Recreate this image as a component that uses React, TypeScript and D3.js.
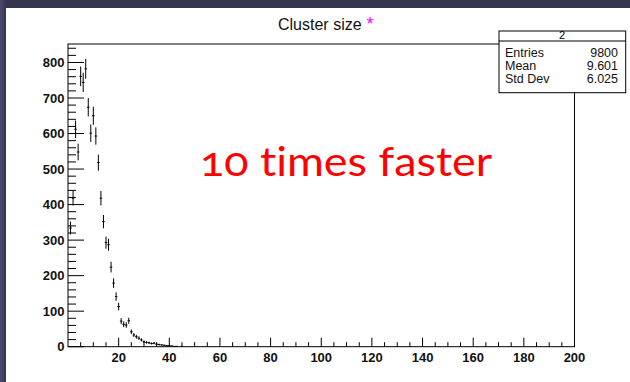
import React from "react";
import * as d3 from "d3";

const binCenters = [1,2,3,4,5,6,7,8,9,10,11,12,13,14,15,16,17,18,19,20,21,22,23,24,25,26,27,28,29,30,31,32,33,34,35,36,37,38,39,40,41,42,43,45];
const binCounts = [334,418,612,548,761,744,782,674,601,650,593,518,418,352,293,287,224,179,141,113,72,63,61,73,42,33,28,24,19,14,12,11,9,10,7,6,5,4,3,3,2,1,1,1];
const xMajorTicks = [20,40,60,80,100,120,140,160,180,200];
const yMajorTicks = [0,100,200,300,400,500,600,700,800];
const statsLabels = ["Entries","Mean","Std Dev"];
const statsValues = ["9800","9.601","6.025"];
const histName = "2";
const titleText = "Cluster size";
const overlayText = "10 times faster";

const W = 630, H = 382;
const L = 68, R = 574.5, T = 44, B = 346.7;

export default function App() {
  const x = d3.scaleLinear().domain([0, 200]).range([L, R]);
  const y = d3.scaleLinear().domain([0, 852]).range([B, T]);
  const xMinor = d3.range(0, 201, 5).filter(v => v % 20 !== 0);
  const yMinor = d3.range(0, 852, 20).filter(v => v % 100 !== 0);
  const font = "'Liberation Sans', Arial, Helvetica, sans-serif";
  return (
    <svg width={W} height={H} style={{ position: "absolute", left: 0, top: 0, display: "block" }}>
      <defs>
        <linearGradient id="lg" x1="0" x2="1" y1="0" y2="0">
          <stop offset="0" stopColor="#4c4c72" />
          <stop offset="1" stopColor="#36364f" />
        </linearGradient>
        <clipPath id="frame"><rect x={L} y={T} width={R - L} height={B - T} /></clipPath>
      </defs>
      <rect x={0} y={0} width={W} height={H} fill="#ffffff" />
      <rect x={0} y={0} width={W} height={8} fill="#35354f" />
      <rect x={0} y={0} width={6} height={H} fill="url(#lg)" />

      {/* title */}
      <text x={278} y={30} fontFamily={font} fontSize={16} fill="#111">
        {titleText}
        <tspan fill="#ff00ff" fontSize={18} dx={5}>*</tspan>
      </text>

      {/* frame */}
      <rect x={L} y={T} width={R - L} height={B - T} fill="none" stroke="#000" strokeWidth={1} />

      {/* y ticks */}
      {yMajorTicks.map(v => (
        <g key={"ym" + v}>
          <line x1={L} x2={L + 16} y1={y(v)} y2={y(v)} stroke="#000" strokeWidth={1} />
          <text x={64.5} y={y(v) + 4.7} textAnchor="end" fontFamily={font} fontWeight="bold" fontSize={13} fill="#111">{v}</text>
        </g>
      ))}
      {yMinor.map(v => (
        <line key={"yn" + v} x1={L} x2={L + 8} y1={y(v)} y2={y(v)} stroke="#000" strokeWidth={1} />
      ))}

      {/* x ticks */}
      {xMajorTicks.map(v => (
        <g key={"xm" + v}>
          <line x1={x(v)} x2={x(v)} y1={B} y2={B - 9} stroke="#000" strokeWidth={1} />
          <text x={x(v)} y={362} textAnchor="middle" fontFamily={font} fontWeight="bold" fontSize={13} fill="#111">{v}</text>
        </g>
      ))}
      {xMinor.map(v => (
        <line key={"xn" + v} x1={x(v)} x2={x(v)} y1={B} y2={B - 4.5} stroke="#000" strokeWidth={1} />
      ))}

      {/* data */}
      <g clipPath="url(#frame)" stroke="#000" strokeWidth={1}>
        {binCenters.map((c, i) => {
          const v = binCounts[i];
          const e = Math.sqrt(v);
          return (
            <g key={"b" + c}>
              <line x1={x(c)} x2={x(c)} y1={y(v - e)} y2={y(v + e)} />
              <line x1={x(c - 0.5)} x2={x(c + 0.5)} y1={y(v)} y2={y(v)} />
            </g>
          );
        })}
      </g>

      {/* stats box */}
      <rect x={499} y={31} width={126.7} height={61.7} fill="#fff" stroke="#000" strokeWidth={1} />
      <line x1={499} x2={625.7} y1={41} y2={41} stroke="#000" strokeWidth={1} />
      <text x={562} y={39.3} textAnchor="middle" fontFamily={font} fontSize={11} fill="#000">{histName}</text>
      {statsLabels.map((s, i) => (
        <g key={s}>
          <text x={505} y={56.7 + i * 13.3} fontFamily={font} fontSize={12.5} fill="#111">{s}</text>
          <text x={618} y={56.7 + i * 13.3} textAnchor="end" fontFamily={font} fontSize={12.5} fill="#111">{statsValues[i]}</text>
        </g>
      ))}

      {/* overlay text */}
      <text x={200} y={176} fontFamily="Lato, 'Open Sans', sans-serif" fontSize={40} fill="#ff0000"
        textLength={292} lengthAdjust="spacingAndGlyphs"
        style={{ fontVariantNumeric: "oldstyle-nums", fontVariantLigatures: "none" }}>{overlayText}</text>
    </svg>
  );
}
